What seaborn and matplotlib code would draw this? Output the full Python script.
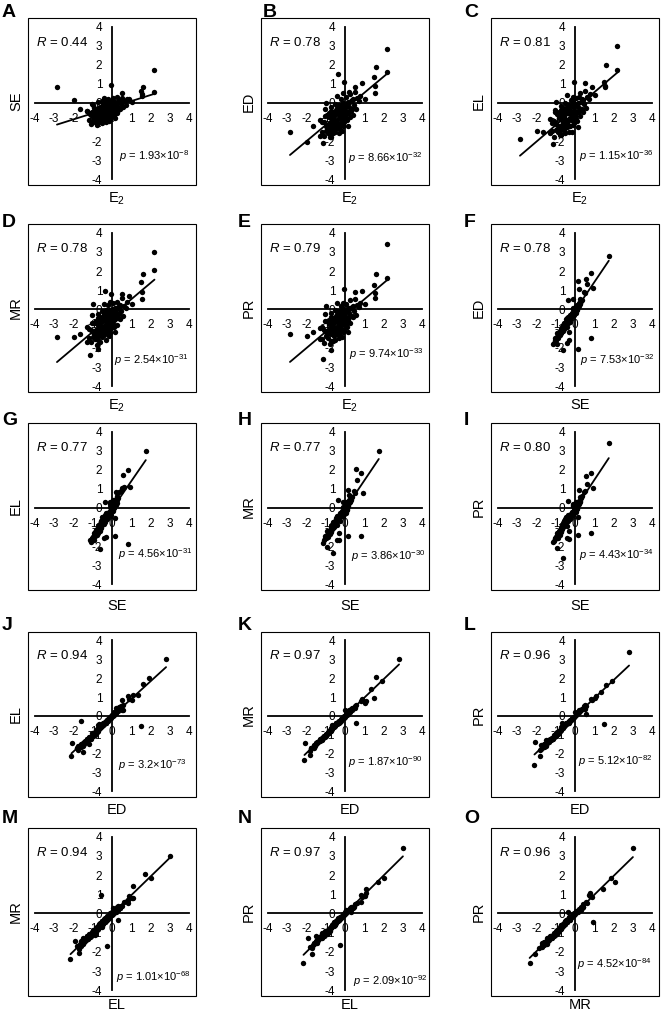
import numpy as np
import matplotlib.pyplot as plt
from matplotlib.patches import Rectangle
import pandas as pd
import seaborn as sns

# values per sample (same samples in every panel)
E2 = [2.2, 2.2, 1.6, 1.5, 1.55, 1.55, -2.85, -1.95, -1.15, -0.05,
      -0.35, -1.65, -0.75, -1.3, -1.05, 0.9, 1.05, 0.4, 0.5, -0.6,
      0.2, -0.9, -0.7, -0.5, -0.3, -1.0, -0.85, -0.6, -0.4, -0.2,
      0.05, -0.75, -0.55, -0.35, -0.15, 0.1, 0.3, -0.95, -0.6, -0.45,
      -0.25, -0.05, 0.2, 0.45, -0.7, -0.3, -0.1, 0.15, 0.35, 0.6,
      0.8, 0.05, -0.2, 0.25, 0.5, -1.1, -0.8, -0.15, 0.15, -1.2,
      -0.95, -0.55, -0.05, 0.25, -0.65, -0.45, -0.25, 0.0, 0.55, -0.85,
      0.3, -0.4, -0.1, 0.7, -1.05, -1.3, -1.2, -1.0,
      -0.45, -0.3, -0.15, -0.6, -0.35, -0.1, -0.5, -0.2, 0.0, -0.4,
      -0.65, -0.25, -0.8, -0.55, -1.0, -0.7, -0.3, -0.1, 0.1, 0.15,
      0.35, -0.15, 0.05, -0.5, 0.4, -0.85, -1.1, -0.4, -0.2, 0.2,
      -0.6, -0.35, 0.1, -0.75, -0.05]
SE = [1.75, 0.55, 0.85, 0.6, 0.45, 0.35, 0.85, 0.15, -0.6, 0.95,
      0.15, -0.3, -0.95, -0.4, -0.5, 0.2, 0.05, -0.3, 0.5, -0.3,
      -0.1, -1.0, -0.9, -1.05, -0.85, -0.75, -0.6, -0.7, -0.55, -0.65,
      -0.6, -0.45, -0.35, -0.4, -0.3, -0.45, -0.35, -0.25, -0.2, -0.1,
      -0.2, -0.1, -0.15, -0.05, 0.05, 0.0, 0.1, 0.05, 0.15, 0.1,
      0.2, 0.25, 0.2, 0.3, 0.25, -1.1, -1.15, -0.95, -0.8, -0.9,
      -0.85, -0.95, -0.75, -0.55, -0.55, -0.8, -0.45, -0.35, -0.2, -0.35,
      0.05, 0.25, -0.35, -0.1, -0.05, -0.4, -0.55, -0.1,
      -0.6, -0.5, -0.55, -0.5, -0.65, -0.45, -0.3, -0.25, -0.2, -0.15,
      -0.75, -0.75, -0.7, -0.8, -0.95, -1.05, -1.0, -0.85, -0.65, -0.4,
      -0.25, 0.0, 0.0, 0.1, 0.1, -0.45, -0.65, -0.9, -0.6, -0.3,
      -0.4, -0.25, -0.05, -0.25, -0.4]
ED = [2.8, 1.6, 1.9, 1.35, 0.9, 0.5, -1.5, -2.05, -2.1, 1.1,
      1.5, -1.2, -1.8, -1.75, -0.7, 1.05, 0.2, -0.65, 0.85, -1.6,
      0.55, -1.6, -1.4, -1.5, -1.3, -1.2, -1.1, -1.0, -0.9, -1.05,
      -0.8, -0.8, -0.7, -0.6, -0.55, -0.5, -0.4, -0.65, -0.45, -0.35,
      -0.3, -0.25, -0.2, -0.1, -0.2, -0.1, 0.0, 0.05, 0.15, 0.25,
      0.35, 0.3, 0.2, 0.45, 0.55, -1.75, -1.8, -1.45, -1.2, -1.5,
      -1.3, -1.25, -1.0, -0.75, -0.95, -1.15, -0.75, -0.6, -0.3, -0.55,
      0.1, 0.35, 0.5, 0.1, -0.3, -0.9, -1.0, 0.0,
      -0.95, -0.8, -0.7, -0.85, -1.1, -0.65, -0.5, -0.4, -0.35, -0.25,
      -1.2, -1.15, -1.25, -1.35, -1.45, -1.6, -1.55, -1.2, -0.9, -0.55,
      -0.3, -0.15, -0.05, -0.05, 0.2, -0.75, -1.0, -1.3, -0.85, -0.45,
      -0.65, -0.5, -0.15, -0.4, -0.45]
EL = [3.0, 1.7, 2.0, 1.1, 0.9, 0.85, -1.9, -1.45, -2.15, 1.1,
      -0.55, -1.5, -1.7, -1.6, -0.5, 0.85, 0.4, -0.45, 1.05, -0.25,
      0.3, -1.5, -1.35, -1.6, -1.2, -1.1, -1.2, -0.95, -1.0, -0.9,
      -0.85, -0.7, -0.75, -0.55, -0.6, -0.45, -0.35, -0.6, -0.5, -0.3,
      -0.35, -0.2, -0.25, -0.05, -0.15, -0.1, 0.05, 0.0, 0.2, 0.3,
      0.45, 0.25, 0.15, 0.5, 0.6, -1.8, -1.7, -1.5, -1.25, -1.45,
      -1.35, -1.3, -1.05, -0.7, -0.9, -1.1, -0.8, -0.65, -0.25, -0.5,
      0.05, 0.4, 0.3, 0.2, -0.35, -0.85, -1.05, 0.05,
      -0.9, -0.85, -0.7, -0.8, -1.15, -0.6, -0.55, -0.45, -0.4, -0.2,
      -1.15, -1.2, -1.3, -1.4, -1.4, -1.65, -1.5, -1.15, -0.95, -0.5,
      -0.3, -0.15, -0.1, 0.0, 0.15, -0.8, -0.95, -1.25, -0.85, -0.4,
      -0.65, -0.45, -0.1, -0.35, -0.5]
MR = [3.0, 2.05, 1.85, 1.45, 0.9, 0.55, -1.45, -1.45, -2.35, 0.8,
      0.95, -1.3, -2.05, -1.7, -0.7, 0.7, 0.3, -0.5, 0.8, -1.7,
      -0.35, -1.55, -1.4, -1.45, -1.25, -1.15, -1.05, -1.0, -0.85, -1.1,
      -0.75, -0.8, -0.65, -0.6, -0.5, -0.55, -0.45, -0.7, -0.4, -0.4,
      -0.25, -0.3, -0.15, -0.1, -0.25, -0.05, -0.05, 0.1, 0.1, 0.2,
      0.4, 0.35, 0.25, 0.4, 0.6, -1.7, -1.85, -1.4, -1.2, -1.5,
      -1.3, -1.2, -0.95, -0.8, -0.95, -1.15, -0.7, -0.55, -0.35, -0.6,
      0.15, 0.3, 0.4, 0.05, -0.3, -0.9, -1.0, 0.3,
      -0.95, -0.8, -0.75, -0.85, -1.05, -0.65, -0.5, -0.4, -0.3, -0.25,
      -1.25, -1.1, -1.2, -1.35, -1.45, -1.6, -1.6, -1.25, -0.9, -0.5,
      -0.25, -0.1, 0.0, -0.1, 0.25, -0.7, -1.05, -1.35, -0.9, -0.45,
      -0.6, -0.5, -0.15, -0.45, -0.4]
PR = [3.4, 1.65, 1.85, 1.25, 0.85, 0.6, -1.3, -1.4, -2.6, 1.05,
      -0.45, -1.2, -2.1, -1.55, -0.6, 0.95, 0.3, -0.4, 0.9, -1.65,
      0.1, -1.5, -1.3, -1.6, -1.3, -1.2, -1.0, -1.05, -0.9, -1.0,
      -0.8, -0.75, -0.7, -0.65, -0.55, -0.5, -0.35, -0.6, -0.45, -0.35,
      -0.3, -0.2, -0.2, -0.1, -0.2, -0.1, 0.0, 0.05, 0.15, 0.25,
      0.35, 0.3, 0.2, 0.5, 0.55, -1.75, -1.8, -1.45, -1.15, -1.55,
      -1.25, -1.3, -1.05, -0.7, -0.85, -1.2, -0.75, -0.6, -0.3, -0.55,
      0.1, 0.35, 0.35, 0.15, -0.25, -0.95, -0.9, 0.2,
      -0.95, -0.8, -0.7, -0.9, -1.1, -0.6, -0.5, -0.4, -0.35, -0.25,
      -1.15, -1.15, -1.25, -1.4, -1.4, -1.65, -1.5, -1.2, -0.9, -0.55,
      -0.35, -0.15, -0.05, -0.05, 0.2, -0.75, -1.05, -1.3, -0.85, -0.4,
      -0.6, -0.45, -0.1, -0.4, -0.45]

# panels: (x variable, y variable), correlation and p value labels
pairs = [('E2', 'SE'), ('E2', 'ED'), ('E2', 'EL'), ('E2', 'MR'), ('E2', 'PR'),
         ('SE', 'ED'), ('SE', 'EL'), ('SE', 'MR'), ('SE', 'PR'),
         ('ED', 'EL'), ('ED', 'MR'), ('ED', 'PR'),
         ('EL', 'MR'), ('EL', 'PR'), ('MR', 'PR')]
r_labels = ['0.44', '0.78', '0.81', '0.78', '0.79', '0.78', '0.77', '0.77',
            '0.80', '0.94', '0.97', '0.96', '0.94', '0.97', '0.96']
p_mantissa = ['1.93', '8.66', '1.15', '2.54', '9.74', '7.53', '4.56', '3.86',
              '4.43', '3.2', '1.87', '5.12', '1.01', '2.09', '4.52']
p_exponent = ['-8', '-32', '-36', '-31', '-33', '-32', '-31', '-30',
              '-34', '-73', '-90', '-82', '-68', '-92', '-84']
letters = list('ABCDEFGHIJKLMNO')
axis_names = {'E2': 'E$_2$', 'SE': 'SE', 'ED': 'ED', 'EL': 'EL', 'MR': 'MR', 'PR': 'PR'}

df = pd.DataFrame({'E2': E2, 'SE': SE, 'ED': ED, 'EL': EL, 'MR': MR, 'PR': PR})

sns.set_style('white')
plt.rcParams['font.family'] = ['Liberation Sans', 'DejaVu Sans']
plt.rcParams['mathtext.fontset'] = 'custom'
plt.rcParams['mathtext.rm'] = 'Liberation Sans'
plt.rcParams['mathtext.it'] = 'Liberation Sans:italic'
plt.rcParams['axes.unicode_minus'] = False
for key in ['text.color', 'axes.labelcolor', 'xtick.color', 'ytick.color']:
    plt.rcParams[key] = 'black'

# layout in pixels
W, H = 663, 1014
row_top = [18, 224, 423, 632, 828]
row_h = [167, 168, 167, 165, 168]
col_left = [28, 261, 491]
box_w = 168
xlabel_gap = [6, 6, 9, 6, 2]
letter_x = [2, 238, 464]
letter_top = [4, 214, 412, 617, 810]
p_x = [0.35, 0.15, 0.2, 0.1, 0.2, 0.25, 0.3, 0.3, 0.2, 0.3, 0.15, 0.15, 0.2, 0.4, 0.1]
p_y = [-2.8, -2.9, -2.8, -2.65, -2.3, -2.65, -2.4, -2.55, -2.45, -2.6, -2.45, -2.4, -3.3, -3.5, -2.65]

fig = plt.figure(figsize=(W / 100, H / 100), dpi=100)

for i, (xv, yv) in enumerate(pairs):
    r, c = divmod(i, 3)
    ax = fig.add_axes([col_left[c] / W, 1 - (row_top[r] + row_h[r]) / H,
                       box_w / W, row_h[r] / H])
    sns.regplot(data=df, x=xv, y=yv, ax=ax, ci=None, color='black',
                scatter_kws={'s': 15, 'linewidths': 0, 'alpha': 1},
                line_kws={'linewidth': 1.3})
    ax.set_xlim(-4.35, 4.35)
    ax.set_ylim(-4.3, 4.45)
    ax.set_xlabel('')
    ax.set_ylabel('')

    # axes crossing at the origin
    ax.spines['top'].set_visible(False)
    ax.spines['right'].set_visible(False)
    for side in ['left', 'bottom']:
        ax.spines[side].set_position(('data', 0))
        ax.spines[side].set_bounds(-4, 4)
        ax.spines[side].set_linewidth(1.3)
        ax.spines[side].set_color('black')
    ax.set_xticks(range(-4, 5))
    ax.set_yticks(range(-4, 5))
    ax.tick_params(direction='in', length=3.5, width=1.3, labelsize=8.5, pad=7)

    # panel frame
    ax.add_patch(Rectangle((0, 0), 1, 1, transform=ax.transAxes, fill=False,
                           lw=0.8, ec='black', clip_on=False, zorder=5))

    ax.text(0.05, 0.855, f'$R$ = {r_labels[i]}', transform=ax.transAxes,
            fontsize=9.5, ha='left', va='center')
    ax.text(p_x[i], p_y[i],
            f'$p$ = {p_mantissa[i]}×$\\mathregular{{10^{{{p_exponent[i]}}}}}$',
            fontsize=8, ha='left', va='center')

    ax.text(0.53, -xlabel_gap[r] / row_h[r], axis_names[xv], transform=ax.transAxes,
            fontsize=10.5, ha='center', va='top')
    ax.text(-0.03, 0.5, axis_names[yv], transform=ax.transAxes,
            fontsize=10.5, ha='right', va='center', rotation=90)

    lx = letter_x[c] + (25 if i == 1 else 0)
    fig.text(lx / W, 1 - letter_top[r] / H, letters[i], fontsize=14,
             fontweight='bold', ha='left', va='top')

fig.savefig('out.png', dpi=100)
